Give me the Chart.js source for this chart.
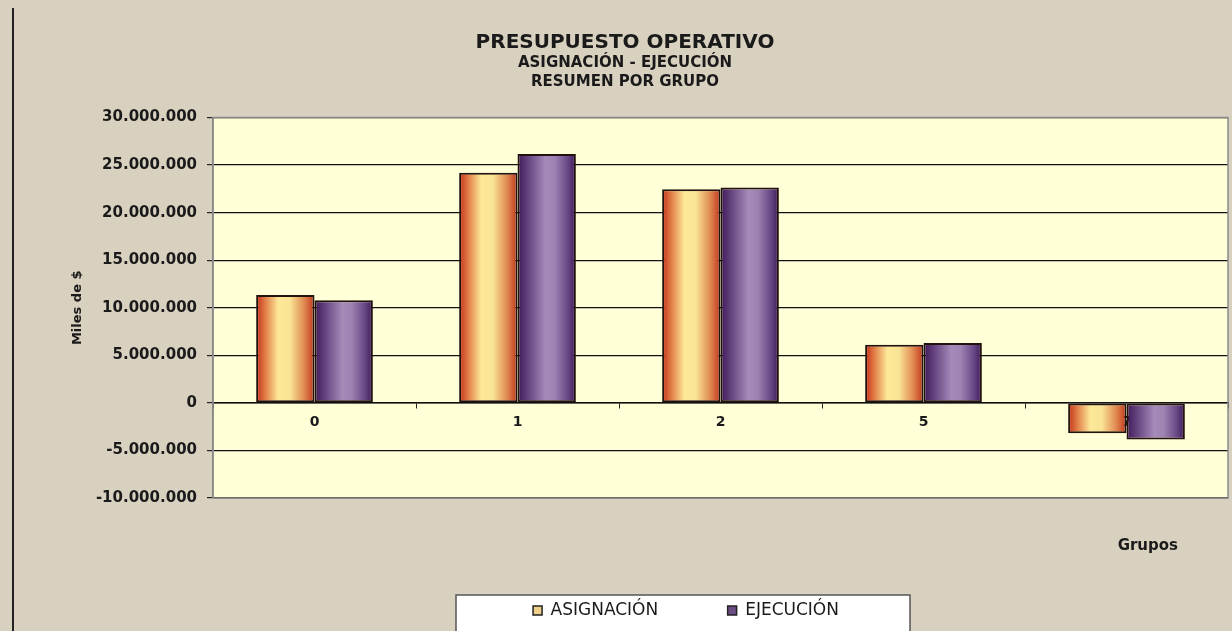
<!DOCTYPE html>
<html>
<head>
<meta charset="utf-8">
<script src="https://cdn.jsdelivr.net/npm/chart.js@4.4.1/dist/chart.umd.min.js"></script>
<style>
  html, body { margin: 0; padding: 0; background: #d9d1c0; }
  #wrap { width: 1232px; height: 631px; }
</style>
</head>
<body>
<div id="wrap"><canvas id="presupuestoChart" width="1232" height="631"></canvas></div>
<script>
// Datos (miles de $)
const grupos = ["0", "1", "2", "5", "7"];
const asignacion = [11350000, 24200000, 22450000, 6100000, -3200000];
const ejecucion = [10800000, 26150000, 22650000, 6300000, -3850000];
const yTicks = { min: -10000000, max: 30000000, step: 5000000 };

const CAT_PCT = 0.575;
const ctx = document.getElementById("presupuestoChart").getContext("2d");

function fmt(v) {
  const s = String(Math.abs(v)).replace(/\B(?=(\d{3})+(?!\d))/g, ".");
  return (v < 0 ? "-" : "") + s;
}

// horizontal gradient across each bar (cylinder look)
function barFill(stops) {
  return (c) => {
    const chart = c.chart;
    const area = chart.chartArea;
    const xs = chart.scales.x;
    if (!area || !xs || c.type !== "data") return stops[2][1];
    const center = xs.getPixelForValue(c.dataIndex);
    const w = (area.width / grupos.length) * CAT_PCT / 2;
    const left = c.datasetIndex === 0 ? center - w : center;
    const g = chart.ctx.createLinearGradient(left, 0, left + w, 0);
    stops.forEach(([o, col]) => g.addColorStop(o, col));
    return g;
  };
}

const series = [
  {
    label: "ASIGNACIÓN",
    data: asignacion,
    legendColor: "#efcf8a",
    stops: [[0, "#c4301a"], [0.15, "#e07a45"], [0.38, "#fde898"], [0.58, "#f9e394"], [0.82, "#e08a52"], [1, "#c2361b"]]
  },
  {
    label: "EJECUCIÓN",
    data: ejecucion,
    legendColor: "#6b4c83",
    stops: [[0, "#40195a"], [0.18, "#64437e"], [0.48, "#a68bba"], [0.64, "#9e82b2"], [0.86, "#684885"], [1, "#3e1a58"]]
  }
];

const decor = {
  id: "decor",
  afterLayout(chart) {
    // legend and titles sit off-centre in the original
    const lg = chart.legend;
    const dxL = 686 - (lg.left + lg.right) / 2;
    lg.left += dxL;
    lg.right += dxL;
    chart.boxes.forEach(b => {
      if (b.position === "top") {
        const dx = 625 - (b.left + b.right) / 2;
        b.left += dx;
        b.right += dx;
      }
    });
  },
  beforeDraw(chart) {
    const c = chart.ctx;
    const a = chart.chartArea;
    c.save();
    c.fillStyle = "#d9d1c0";
    c.fillRect(0, 0, chart.width, chart.height);
    c.strokeStyle = "#222";
    c.lineWidth = 2;
    c.beginPath();
    c.moveTo(13, 8);
    c.lineTo(13, chart.height);
    c.stroke();
    c.fillStyle = "#ffffd8";
    c.fillRect(a.left, a.top, a.width, a.height);
    // legend panel
    c.fillStyle = "#ffffff";
    c.fillRect(456, 595, 454, chart.height);
    c.strokeStyle = "#555";
    c.lineWidth = 1.5;
    c.strokeRect(456, 595, 454, chart.height);
    c.restore();
  },
  beforeDatasetsDraw(chart) {
    const c = chart.ctx;
    const a = chart.chartArea;
    c.save();
    c.strokeStyle = "#8a8a8a";
    c.lineWidth = 1.5;
    c.strokeRect(a.left, a.top, a.width, a.height);
    c.restore();
  },
  afterDraw(chart) {
    const c = chart.ctx;
    const a = chart.chartArea;
    c.save();
    c.font = "bold 15px 'DejaVu Sans'";
    c.fillStyle = "#1a1a1a";
    c.textAlign = "right";
    c.textBaseline = "middle";
    c.fillText("Grupos", a.right - 50, a.bottom + 48);
    c.restore();
  }
};

const chart = new Chart(ctx, {
  type: "bar",
  data: {
    labels: grupos,
    datasets: series.map(s => ({
      label: s.label,
      data: s.data,
      backgroundColor: barFill(s.stops),
      borderColor: "#22120e",
      borderWidth: 2,
      borderSkipped: false,
      categoryPercentage: CAT_PCT,
      barPercentage: 1
    }))
  },
  options: {
    responsive: false,
    devicePixelRatio: 1,
    animation: false,
    layout: { padding: { left: 67, right: 4, top: 0, bottom: 2 } },
    plugins: {
      title: {
        display: true,
        text: "PRESUPUESTO OPERATIVO",
        color: "#1a1a1a",
        font: { family: "'DejaVu Sans'", size: 20, weight: "bold", lineHeight: 1.1 },
        padding: { top: 32, bottom: 0 }
      },
      subtitle: {
        display: true,
        text: ["ASIGNACIÓN - EJECUCIÓN", "RESUMEN POR GRUPO"],
        color: "#1a1a1a",
        font: { family: "'DejaVu Sans'", size: 15, weight: "bold", lineHeight: 1.25 },
        padding: { top: 0, bottom: 26 }
      },
      legend: {
        position: "bottom",
        labels: {
          color: "#1a1a1a",
          font: { family: "'DejaVu Sans'", size: 17 },
          boxWidth: 9,
          boxHeight: 9,
          padding: 10,
          generateLabels: () => series.map((s, i) => ({
            text: i === 0 ? s.label + "           " : s.label,
            fillStyle: s.legendColor,
            strokeStyle: "#222",
            lineWidth: 1.5,
            hidden: false,
            datasetIndex: i,
            fontColor: "#1a1a1a"
          }))
        }
      },
      tooltip: { enabled: false }
    },
    scales: {
      x: {
        position: { y: 0 },
        offset: true,
        grid: { display: true, drawOnChartArea: false, drawTicks: true, tickLength: 5, offset: true, color: "#222" },
        border: { display: true, color: "#111", width: 1.5 },
        ticks: { color: "#1a1a1a", font: { family: "'DejaVu Sans'", size: 14, weight: "bold" }, padding: 6 }
      },
      x2: {
        type: "category",
        labels: [""],
        position: "bottom",
        grid: { display: false },
        border: { display: false },
        ticks: { display: false },
        afterFit: s => { s.height = 94; }
      },
      y: {
        min: yTicks.min,
        max: yTicks.max,
        afterFit: s => { s.width = 146; },
        ticks: {
          stepSize: yTicks.step,
          color: "#1a1a1a",
          padding: 10,
          font: { family: "'DejaVu Sans'", size: 15, weight: "bold" },
          callback: v => fmt(v)
        },
        grid: {
          color: "#111",
          lineWidth: 1.2,
          tickLength: 6,
          tickColor: "#222"
        },
        border: { display: true, color: "#777", width: 1.5 },
        title: {
          display: true,
          text: "Miles de $",
          color: "#1a1a1a",
          font: { family: "'DejaVu Sans'", size: 13, weight: "bold" },
          padding: { top: 3, bottom: 3 }
        }
      }
    }
  },
  plugins: [decor]
});
</script>
</body>
</html>
